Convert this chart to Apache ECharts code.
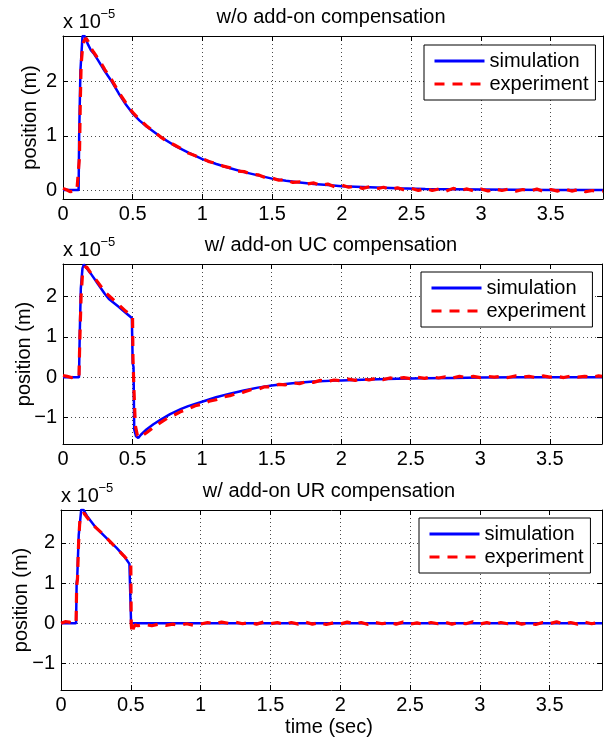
<!DOCTYPE html>
<html><head><meta charset="utf-8">
<script src="https://cdn.jsdelivr.net/npm/echarts@6/dist/echarts.min.js"></script>
<style>html,body{margin:0;padding:0;background:#fff}#c{width:607px;height:741px}</style>
</head><body><div id="c"></div>
<script>
// ---------- DATA (position in units of 1e-5 m, time in s) ----------
const seriesNames = ['simulation', 'experiment'];
const titles = ['w/o add-on compensation', 'w/ add-on UC compensation', 'w/ add-on UR compensation'];
const yLabel = 'position (m)';
const xLabel = 'time (sec)';
const xTicks = [0, 0.5, 1, 1.5, 2, 2.5, 3, 3.5];
const yTicks = [-1, 0, 1, 2];

// panel 1 : w/o add-on compensation
const p1SimT = [0, 0.112, 0.116, 0.125, 0.14, 0.155, 0.18, 0.2, 0.22, 0.25, 0.3, 0.35, 0.4, 0.45, 0.5, 0.55, 0.6, 0.7, 0.8, 0.9, 1.0, 1.1, 1.2, 1.3, 1.4, 1.5, 1.6, 1.7, 1.8, 1.9, 2.0, 2.2, 2.4, 2.6, 2.8, 3.0, 3.5, 3.875];
const p1SimV = [0, 0, 1.0, 2.2, 2.84, 2.84, 2.68, 2.58, 2.52, 2.40, 2.19, 2.0, 1.78, 1.58, 1.41, 1.28, 1.17, 0.98, 0.82, 0.69, 0.57, 0.48, 0.40, 0.33, 0.27, 0.21, 0.17, 0.14, 0.11, 0.09, 0.07, 0.05, 0.03, 0.02, 0.015, 0.01, 0, 0];
const p1ExpHeadT = [0, 0.03, 0.05, 0.08, 0.1, 0.112, 0.118, 0.124, 0.13, 0.14, 0.15, 0.165, 0.18, 0.2, 0.22, 0.25, 0.28, 0.3, 0.35, 0.4, 0.45, 0.5, 0.55, 0.6, 0.65, 0.7, 0.75];
const p1ExpHeadV = [0.03, 0.0, -0.03, -0.02, 0.0, 0.0, 0.6, 1.6, 2.3, 2.62, 2.74, 2.80, 2.74, 2.62, 2.54, 2.43, 2.31, 2.22, 2.03, 1.80, 1.61, 1.43, 1.30, 1.18, 1.08, 0.98, 0.89];

// shared experiment tail sample times
const tailT = [0.80,0.85,0.90,0.95,1.00,1.05,1.10,1.15,1.20,1.25,
  1.30,1.35,1.40,1.45,1.50,1.55,1.60,1.65,1.70,1.75,
  1.80,1.85,1.90,1.95,2.00,2.05,2.10,2.15,2.20,2.25,
  2.30,2.35,2.40,2.45,2.50,2.55,2.60,2.65,2.70,2.75,
  2.80,2.85,2.90,2.95,3.00,3.05,3.10,3.15,3.20,3.25,
  3.30,3.35,3.40,3.45,3.50,3.55,3.60,3.65,3.70,3.75,
  3.80,3.85,3.875];

const p1ExpTailV = [0.83,0.76,0.68,0.63,0.58,0.52,0.49,0.44,0.41,0.35,
  0.34,0.29,0.28,0.23,0.22,0.18,0.19,0.14,0.15,0.11,
  0.13,0.08,0.11,0.06,0.09,0.05,0.07,0.03,0.06,0.02,
  0.05,0.01,0.04,0.00,0.03,-0.01,0.03,-0.01,0.02,-0.02,
  0.03,-0.01,0.02,-0.02,0.02,-0.02,0.02,-0.01,0.02,-0.02,
  0.01,-0.02,0.02,-0.03,0.01,-0.02,0.02,-0.02,0.01,-0.03,
  -0.01,-0.03,-0.02];

// panel 2 : w/ add-on UC compensation
const p2SimT = [0, 0.115, 0.12, 0.128, 0.14, 0.15, 0.16, 0.2, 0.25, 0.3, 0.33, 0.4, 0.45, 0.495, 0.5, 0.501, 0.507, 0.512, 0.525, 0.541, 0.56, 0.6, 0.65, 0.7, 0.77, 0.85, 0.9, 1.0, 1.1, 1.2, 1.3, 1.4, 1.5, 1.65, 1.8, 2.0, 2.2, 2.4, 2.6, 2.8, 3.0, 3.3, 3.875];
const p2SimV = [0, 0, 1.0, 2.2, 2.7, 2.8, 2.79, 2.57, 2.32, 2.07, 1.94, 1.75, 1.60, 1.47, 1.45, 0.35, 0.25, -1.3, -1.47, -1.51, -1.43, -1.3, -1.17, -1.06, -0.92, -0.79, -0.72, -0.61, -0.5, -0.41, -0.33, -0.26, -0.21, -0.15, -0.11, -0.08, -0.06, -0.04, -0.03, -0.02, -0.01, -0.005, 0];
const p2ExpHeadT = [0, 0.03, 0.06, 0.09, 0.115, 0.12, 0.13, 0.14, 0.155, 0.17, 0.2, 0.25, 0.3, 0.35, 0.4, 0.45, 0.5, 0.503, 0.51, 0.52, 0.535, 0.55, 0.6, 0.65, 0.7, 0.75];
const p2ExpHeadV = [0.04, 0.02, -0.01, 0.0, 0.0, 0.8, 2.0, 2.55, 2.72, 2.74, 2.58, 2.36, 2.12, 1.96, 1.80, 1.64, 1.50, 0.5, -0.3, -1.2, -1.45, -1.50, -1.38, -1.25, -1.13, -1.02];
const p2ExpTailV = [-0.94,-0.85,-0.79,-0.71,-0.67,-0.60,-0.56,-0.49,-0.46,-0.40,
  -0.37,-0.31,-0.30,-0.24,-0.24,-0.18,-0.19,-0.14,-0.16,-0.11,
  -0.13,-0.08,-0.11,-0.07,-0.09,-0.05,-0.08,-0.04,-0.07,-0.03,
  -0.06,-0.02,-0.04,-0.01,-0.04,0.0,-0.03,0.01,-0.02,0.01,
  -0.02,0.02,-0.01,0.02,-0.01,0.02,0.0,0.02,-0.01,0.03,
  0.0,0.02,-0.01,0.03,0.0,0.02,-0.01,0.03,0.0,0.02,
  0.0,0.03,0.02];

// panel 3 : w/ add-on UR compensation
const p3SimT = [0, 0.108, 0.112, 0.116, 0.127, 0.145, 0.16, 0.19, 0.25, 0.33, 0.4, 0.45, 0.49, 0.5, 0.502, 3.875];
const p3SimV = [0, 0, 1.0, 1.1, 2.2, 2.83, 2.83, 2.65, 2.38, 2.11, 1.87, 1.68, 1.48, 1.45, 0, 0];
const p3ExpHeadT = [0, 0.03, 0.06, 0.09, 0.108, 0.112, 0.118, 0.126, 0.135, 0.15, 0.165, 0.19, 0.22, 0.25, 0.3, 0.35, 0.4, 0.45, 0.49, 0.5, 0.503, 0.508, 0.515, 0.53, 0.55, 0.6, 0.65, 0.7, 0.75];
const p3ExpHeadV = [0.0, 0.04, 0.03, 0.0, 0.0, 0.9, 1.1, 2.0, 2.55, 2.72, 2.74, 2.62, 2.49, 2.38, 2.22, 2.04, 1.86, 1.68, 1.52, 1.45, 0.0, -0.25, -0.15, -0.04, -0.06, -0.03, -0.06, -0.02, -0.05];
const p3ExpTailV = [-0.02,-0.05,-0.01,-0.05,-0.02,0.02,-0.01,0.03,0.0,0.03,
  -0.01,0.02,-0.02,0.03,-0.01,0.02,-0.03,0.02,-0.02,0.03,
  -0.02,0.02,-0.03,0.01,-0.02,0.03,-0.01,0.02,-0.03,0.02,
  -0.01,0.02,-0.02,0.03,-0.02,0.01,-0.03,0.02,-0.01,0.03,
  -0.02,0.02,-0.01,0.04,-0.02,0.02,-0.03,0.02,-0.01,0.03,
  -0.02,0.01,-0.03,0.02,-0.01,0.04,-0.02,0.02,-0.02,0.03,
  -0.01,0.02,0.0];

// ---------- LAYOUT ----------
const FONT = '"Liberation Sans", Arial, Helvetica, sans-serif';
const X_MAX = 3.875;
const layout = [
  {left: 63, top: 36, width: 540, height: 163, ymin: -0.166, ymax: 2.84, split: 3, titleX: 331, ylabX: 30.5, lgLeft: 424, lgTop: 45},
  {left: 63, top: 264, width: 539, height: 180, ymin: -1.66, ymax: 2.81, split: 4, titleX: 331, ylabX: 24.5, lgLeft: 421, lgTop: 272},
  {left: 61, top: 510, width: 541, height: 180, ymin: -1.66, ymax: 2.82, split: 4, titleX: 329, ylabX: 21.7, lgLeft: 419, lgTop: 518}
];
const simData = [[p1SimT, p1SimV], [p2SimT, p2SimV], [p3SimT, p3SimV]];
const expData = [
  [p1ExpHeadT.concat(tailT), p1ExpHeadV.concat(p1ExpTailV)],
  [p2ExpHeadT.concat(tailT), p2ExpHeadV.concat(p2ExpTailV)],
  [p3ExpHeadT.concat(tailT), p3ExpHeadV.concat(p3ExpTailV)]
];
function zip(t, v) { const n = Math.min(t.length, v.length); const o = []; for (let i = 0; i < n; i++) o.push([t[i], v[i]]); return o; }
function isTick(v, list) { return list.some(t => Math.abs(t - v) < 1e-6); }
function fmtY(v) { if (!isTick(v, yTicks)) return ''; const r = Math.round(v); return r < 0 ? '\u2212' + Math.abs(r) : String(r); }
function fmtX(v) { if (!isTick(v, xTicks)) return ''; return String(Math.round(v * 10) / 10); }

const grids = [], xAxes = [], yAxes = [], series = [], legends = [], graphics = [];
const axisLineStyle = {color: '#000', width: 1};
const gridLine = {color: '#4a4a4a', type: [1, 3], width: 1};
layout.forEach((L, i) => {
  grids.push({left: L.left, top: L.top, width: L.width, height: L.height, containLabel: false, outerBoundsMode: 'none', show: false});
  xAxes.push({type: 'value', gridIndex: i, min: 0, max: X_MAX, interval: 0.5, position: 'bottom',
    axisLine: {show: true, onZero: false, lineStyle: axisLineStyle},
    axisTick: {show: true, inside: true, length: 5, lineStyle: axisLineStyle},
    axisLabel: {show: true, margin: 5, fontSize: 20, color: '#000', fontFamily: FONT, formatter: fmtX, hideOverlap: false},
    splitLine: {show: true, lineStyle: gridLine}});
  yAxes.push({type: 'value', gridIndex: i, min: L.ymin, max: L.ymax, splitNumber: L.split, position: 'left',
    axisLine: {show: true, onZero: false, lineStyle: axisLineStyle},
    axisTick: {show: true, inside: true, length: 5, lineStyle: axisLineStyle},
    axisLabel: {show: true, margin: 6, fontSize: 20, color: '#000', fontFamily: FONT, formatter: fmtY, hideOverlap: false},
    splitLine: {show: true, lineStyle: gridLine}});
  series.push({type: 'line', name: seriesNames[0], xAxisIndex: i, yAxisIndex: i, data: zip(simData[i][0], simData[i][1]),
    showSymbol: false, symbol: 'none', animation: false, z: 3,
    lineStyle: {color: '#0000ff', width: 2.5}, itemStyle: {color: '#0000ff'}});
  series.push({type: 'line', name: seriesNames[1], xAxisIndex: i, yAxisIndex: i, data: zip(expData[i][0], expData[i][1]),
    showSymbol: false, symbol: 'none', animation: false, z: 4,
    lineStyle: {color: '#ff0000', width: 3.2, type: [10, 8]}, itemStyle: {color: '#ff0000'}});
  legends.push({data: seriesNames, orient: 'vertical', left: L.lgLeft, top: L.lgTop, itemWidth: 50, itemHeight: 14, itemGap: 1,
    padding: [5, 7, 5, 9], borderColor: '#000', borderWidth: 1, backgroundColor: '#fff', selectedMode: false,
    itemStyle: {opacity: 0, borderWidth: 0},
    lineStyle: {width: 3}, textStyle: {fontSize: 20, color: '#000', fontFamily: FONT, lineHeight: 22}});
  graphics.push({type: 'text', x: L.titleX, y: L.top - 19, style: {text: titles[i], font: '20px ' + FONT, fill: '#000', textAlign: 'center', textVerticalAlign: 'middle'}});
  graphics.push({type: 'text', x: L.left, y: L.top - 14, style: {text: 'x 10', font: '20px ' + FONT, fill: '#000', textAlign: 'left', textVerticalAlign: 'middle'}});
  graphics.push({type: 'text', x: L.left + 37.5, y: L.top - 22, style: {text: '\u22125', font: '13px ' + FONT, fill: '#000', textAlign: 'left', textVerticalAlign: 'middle'}});
  graphics.push({type: 'text', x: L.ylabX, y: L.top + L.height / 2, rotation: Math.PI / 2, style: {text: yLabel, font: '20px ' + FONT, fill: '#000', textAlign: 'center', textVerticalAlign: 'middle'}});
});
// box: top and right axes with inside ticks
layout.forEach((L, i) => {
  xAxes.push({type: 'value', gridIndex: i, min: 0, max: X_MAX, interval: 0.5, position: 'top',
    axisLine: {show: true, onZero: false, lineStyle: axisLineStyle},
    axisTick: {show: true, inside: true, length: 5, lineStyle: axisLineStyle},
    axisLabel: {show: false}, splitLine: {show: false}});
  yAxes.push({type: 'value', gridIndex: i, min: L.ymin, max: L.ymax, splitNumber: L.split, position: 'right',
    axisLine: {show: true, onZero: false, lineStyle: axisLineStyle},
    axisTick: {show: true, inside: true, length: 5, lineStyle: axisLineStyle},
    axisLabel: {show: false}, splitLine: {show: false}});
});
graphics.push({type: 'text', x: 329, y: 727, style: {text: xLabel, font: '20px ' + FONT, fill: '#000', textAlign: 'center', textVerticalAlign: 'middle'}});

const chart = echarts.init(document.getElementById('c'), null, {renderer: 'canvas', devicePixelRatio: 1});
chart.setOption({
  animation: false,
  backgroundColor: '#fff',
  textStyle: {fontFamily: FONT},
  grid: grids, xAxis: xAxes, yAxis: yAxes, series: series, legend: legends, graphic: graphics
});
</script></body></html>
